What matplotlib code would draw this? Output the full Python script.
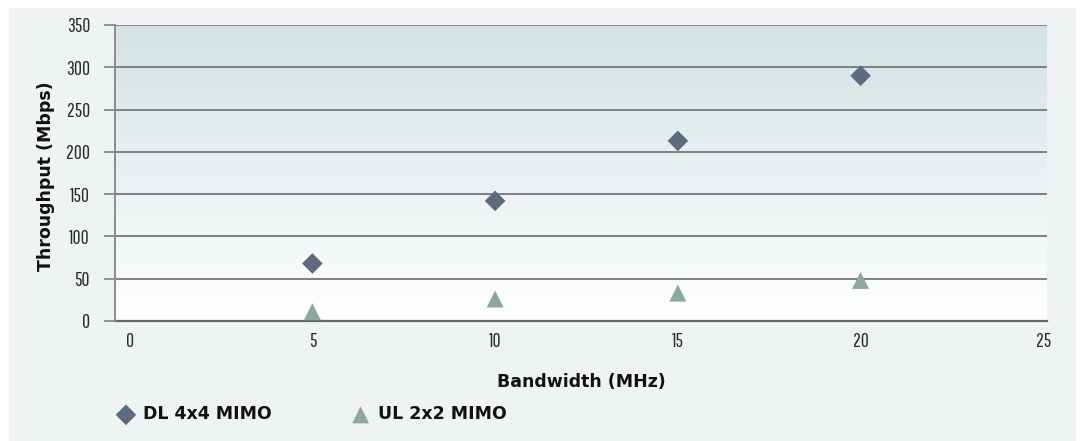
import numpy as np
import matplotlib as mpl
mpl.use("Agg")
import matplotlib.pyplot as plt
from matplotlib.patches import Rectangle
from matplotlib.colors import LinearSegmentedColormap

# throughput vs channel bandwidth
bandwidth = [5, 10, 15, 20]
dl_4x4 = [68, 142, 213, 290]
ul_2x2 = [11, 26, 33, 48]

x_ticks = [0, 5, 10, 15, 20, 25]
y_ticks = [0, 50, 100, 150, 200, 250, 300, 350]

W, H = 1081, 441
fig = plt.figure(figsize=(W / 100, H / 100), dpi=100)
fig.patch.set_facecolor("white")

# light panel behind the chart
fig.patches.append(Rectangle((9 / W, 0), (1076 - 9) / W, (H - 8) / H,
                             transform=fig.transFigure, facecolor="#f0f3f4",
                             edgecolor="none", zorder=-10))

ax = fig.add_axes([115 / W, 1 - 321 / H, (1047 - 115) / W, (321 - 25) / H])
ax.set_facecolor("none")
ax.set_zorder(1)

# vertical gradient in the plot area
cmap = LinearSegmentedColormap.from_list("bg", ["#ffffff", "#d4e2e4"])
grad = np.linspace(0, 1, 256).reshape(-1, 1)
ax.imshow(grad, cmap=cmap, aspect="auto", origin="lower",
          extent=[0, 1, 0, 1], transform=ax.transAxes, zorder=0)

ax.set_xlim(-0.4, 25.1)
ax.set_ylim(0, 350)

for y in y_ticks[1:]:
    ax.axhline(y, color="#7d8080", lw=1.4, zorder=1)

ax.scatter(bandwidth, dl_4x4, marker="D", s=110, color="#5e6a7e",
           edgecolors="none", zorder=3, label="DL 4x4 MIMO")
ax.scatter(bandwidth, ul_2x2, marker="^", s=150, color="#8da69e",
           edgecolors="none", zorder=3, label="UL 2x2 MIMO")

tick_font = dict(family=["Pathway Gothic One", "DejaVu Sans"],
                 size=14, color="#2a2a2a")
ax.set_xticks(x_ticks)
ax.set_xticklabels([str(v) for v in x_ticks], **tick_font)
ax.set_yticks(y_ticks)
ax.set_yticklabels([str(v) for v in y_ticks], **tick_font)
ax.tick_params(axis="x", length=0, pad=8)
ax.tick_params(axis="y", length=8, width=1.2, color="#7d8080", pad=10)

for side in ["top", "right"]:
    ax.spines[side].set_visible(False)
ax.spines["left"].set_color("#8a8d8d")
ax.spines["left"].set_linewidth(1.4)
ax.spines["bottom"].set_color("#666868")
ax.spines["bottom"].set_linewidth(1.6)
ax.spines["bottom"].set_zorder(2)

label_font = dict(family="DejaVu Sans", weight="bold", size=12.5, color="#111111")
ax.set_xlabel("Bandwidth (MHz)", **label_font)
ax.set_ylabel("Throughput (Mbps)", **label_font)
ax.xaxis.set_label_coords(0.5, -0.175)
ax.yaxis.set_label_coords(-0.064, 0.49)

leg = fig.legend(loc="lower left", bbox_to_anchor=(93 / W, 1 - 439 / H),
                 ncol=2, frameon=False, columnspacing=4.1, handletextpad=0.0,
                 prop=dict(family="DejaVu Sans", weight="bold", size=12.5))
for t in leg.get_texts():
    t.set_color("#111111")

fig.savefig("out.png", dpi=100, facecolor=fig.get_facecolor())
